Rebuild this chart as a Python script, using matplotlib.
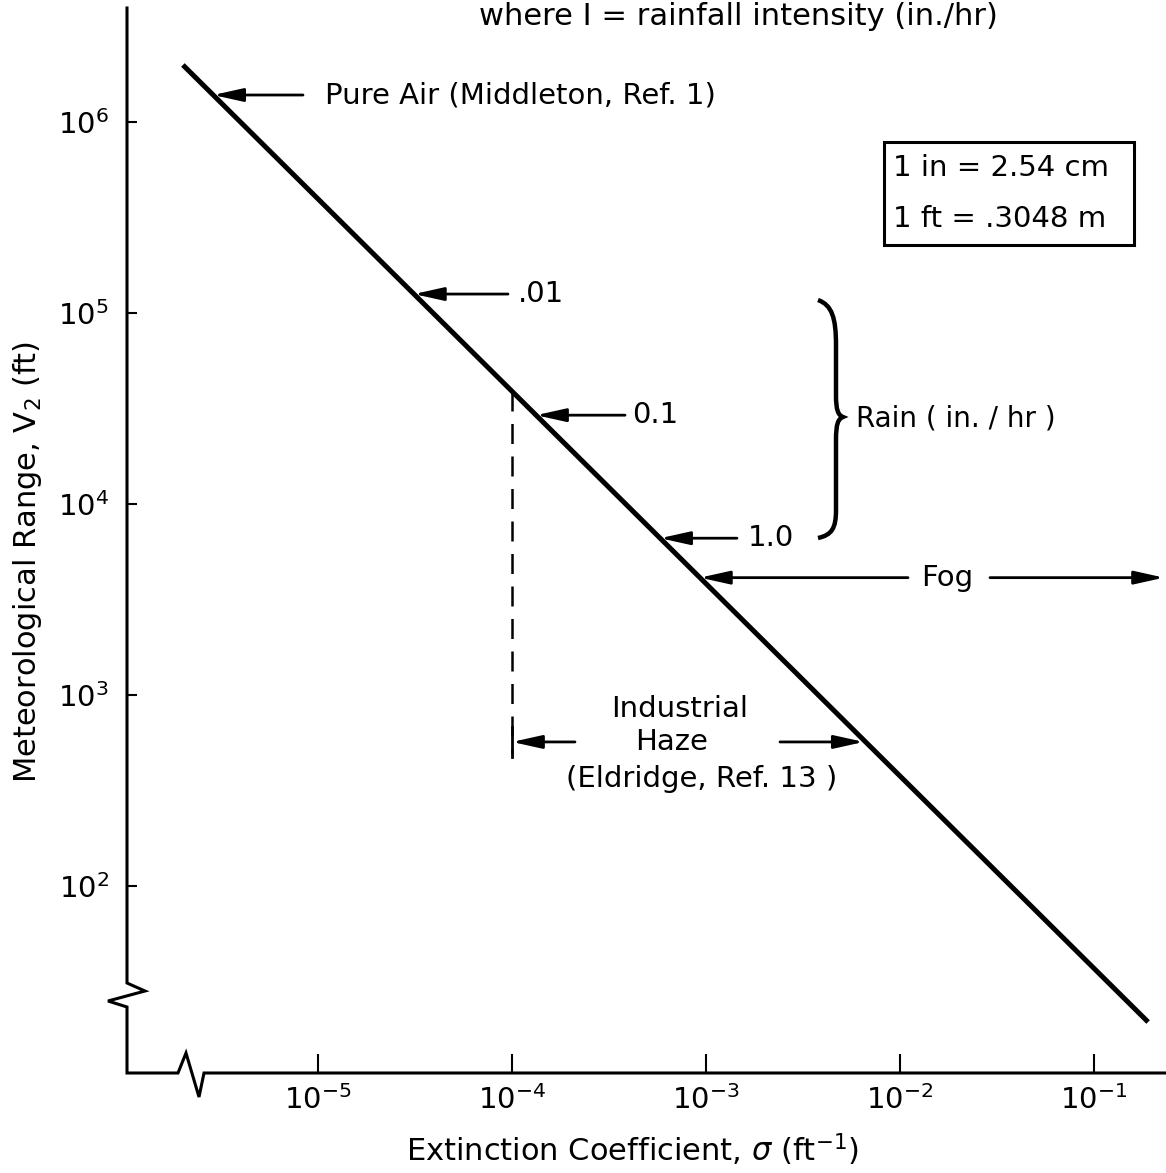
import numpy as np
import matplotlib
matplotlib.use('Agg')
import matplotlib.pyplot as plt
from matplotlib.path import Path
from matplotlib.patches import PathPatch, Rectangle
from matplotlib.lines import Line2D

plt.rcParams['font.family'] = ['DejaVu Sans']
plt.rcParams['mathtext.fontset'] = 'dejavusans'

# data
sigma_line = [2.01e-6, 0.19]        # extinction coefficient, ft^-1
range_line = [1.99e6, 19.4]         # meteorological range, ft
x_ticks = [1e-5, 1e-4, 1e-3, 1e-2, 1e-1]
y_ticks = [1e2, 1e3, 1e4, 1e5, 1e6]
rain_labels = ['.01', '0.1', '1.0']
rain_sigma = [3.12e-5, 1.33e-4, 5.8e-4]
pure_air_sigma = 2.88e-6
fog_sigma = 9.3e-4
haze_sigma = [1e-4, 6.5e-3]
haze_range = 568
haze_dash_bottom = 490


def on_line(s):
    return 10 ** np.interp(np.log10(s), np.log10(sigma_line), np.log10(range_line))


W, H = 1166, 1173
fig = plt.figure(figsize=(W / 100, H / 100), dpi=100)


def fx(px):
    return px / W


def fy(py):
    return 1 - py / H


ax = fig.add_axes([fx(127), fy(1073), fx(1166) - fx(127), fy(0) - fy(1073)])
ax.set_xscale('log')
ax.set_yscale('log')
ax.set_xlim(10 ** -5.985, 10 ** -0.629)
ax.set_ylim(10 ** 1.021, 10 ** 6.639)
for s in ax.spines.values():
    s.set_visible(False)
ax.set_xticks(x_ticks)
ax.set_yticks(y_ticks)
ax.minorticks_off()
ax.tick_params(axis='x', direction='in', length=14, width=1.5, pad=9, labelsize=21)
ax.tick_params(axis='y', direction='in', length=7, width=1.5, pad=13, labelsize=21)

# axes with break marks
sx = [127, 127, 145, 108, 127, 127, 178, 186, 199, 204, 1166]
sy = [8, 983, 991, 1001, 1007, 1073, 1073, 1053, 1097, 1073, 1073]
fig.add_artist(Line2D([fx(v) for v in sx], [fy(v) for v in sy],
                      transform=fig.transFigure, color='k', lw=2.2,
                      solid_joinstyle='miter'))

# main line
ax.plot(sigma_line, range_line, color='k', lw=3.6, solid_capstyle='butt')

arrow = dict(arrowstyle='-|>,head_length=0.9,head_width=0.2', color='k',
             lw=2, mutation_scale=20, shrinkA=0, shrinkB=0)
fs = 21


def label_arrow(s, tail_px, text, text_px):
    v = on_line(s)
    ax.annotate('', xy=(s, v), xytext=(fx(tail_px), v),
                textcoords=('figure fraction', 'data'), arrowprops=arrow)
    ax.annotate(text, xy=(fx(text_px), v), xycoords=('figure fraction', 'data'),
                ha='left', va='center', fontsize=fs)


label_arrow(pure_air_sigma, 303, 'Pure Air (Middleton, Ref. 1)', 325)
for s, lab, tail, tx in zip(rain_sigma, rain_labels, [508, 625, 737], [518, 632, 748]):
    label_arrow(s, tail, lab, tx)

# fog
vf = on_line(fog_sigma)
ax.annotate('', xy=(fog_sigma, vf), xytext=(fx(908), vf),
            textcoords=('figure fraction', 'data'), arrowprops=arrow)
ax.annotate('', xy=(fx(1164), vf), xytext=(fx(990), vf),
            xycoords=('figure fraction', 'data'),
            textcoords=('figure fraction', 'data'), arrowprops=arrow)
ax.annotate('Fog', xy=(fx(947), vf), xycoords=('figure fraction', 'data'),
            ha='center', va='center', fontsize=fs)

# rain brace
bx = [818, 832, 836, 836, 836, 836, 838, 843, 838, 836, 836, 836, 836, 832, 818]
by = [300, 305, 318, 345, 395, 410, 415, 417, 419, 424, 440, 510, 528, 535, 538]
codes = [Path.MOVETO, Path.CURVE4, Path.CURVE4, Path.CURVE4, Path.LINETO,
         Path.CURVE4, Path.CURVE4, Path.CURVE4, Path.CURVE4, Path.CURVE4, Path.CURVE4,
         Path.LINETO, Path.CURVE4, Path.CURVE4, Path.CURVE4]
brace = Path([(fx(a), fy(b)) for a, b in zip(bx, by)], codes)
fig.add_artist(PathPatch(brace, transform=fig.transFigure, fc='none', ec='k', lw=3.2))
fig.text(fx(856), fy(418), 'Rain ( in. / hr )', ha='left', va='center', fontsize=20)

# industrial haze
v0 = on_line(haze_sigma[0])
ax.plot([haze_sigma[0], haze_sigma[0]], [v0, haze_dash_bottom], color='k', lw=1.8,
        linestyle=(0, (8, 5)))
ax.plot([haze_sigma[0], haze_sigma[0]], [haze_range * 1.2, haze_range / 1.2], color='k', lw=2)
ax.annotate('', xy=(haze_sigma[0], haze_range), xytext=(fx(575), haze_range),
            textcoords=('figure fraction', 'data'), arrowprops=arrow)
ax.annotate('', xy=(haze_sigma[1], haze_range), xytext=(fx(780), haze_range),
            textcoords=('figure fraction', 'data'), arrowprops=arrow)
fig.text(fx(680), fy(709), 'Industrial', ha='center', va='center', fontsize=fs)
fig.text(fx(672), fy(742), 'Haze', ha='center', va='center', fontsize=fs)
fig.text(fx(702), fy(779), '(Eldridge, Ref. 13 )', ha='center', va='center', fontsize=fs)

# conversion box
fig.add_artist(Rectangle((fx(884), fy(245)), fx(1134) - fx(884), fy(142) - fy(245),
                         transform=fig.transFigure, fill=False, ec='k', lw=2.2))
fig.text(fx(893), fy(168), '1 in = 2.54 cm', ha='left', va='center', fontsize=fs)
fig.text(fx(893), fy(219), '1 ft = .3048 m', ha='left', va='center', fontsize=fs)

fig.text(fx(738), fy(2), 'where I = rainfall intensity (in./hr)',
         ha='center', va='top', fontsize=22)

fig.text(fx(28), fy(562), 'Meteorological Range, V$_2$ (ft)', rotation=90,
         ha='center', va='center', fontsize=22)
fig.text(fx(632), fy(1150), 'Extinction Coefficient, $\\sigma$ (ft$^{-1}$)',
         ha='center', va='center', fontsize=22)

fig.savefig('out.png', dpi=100)
